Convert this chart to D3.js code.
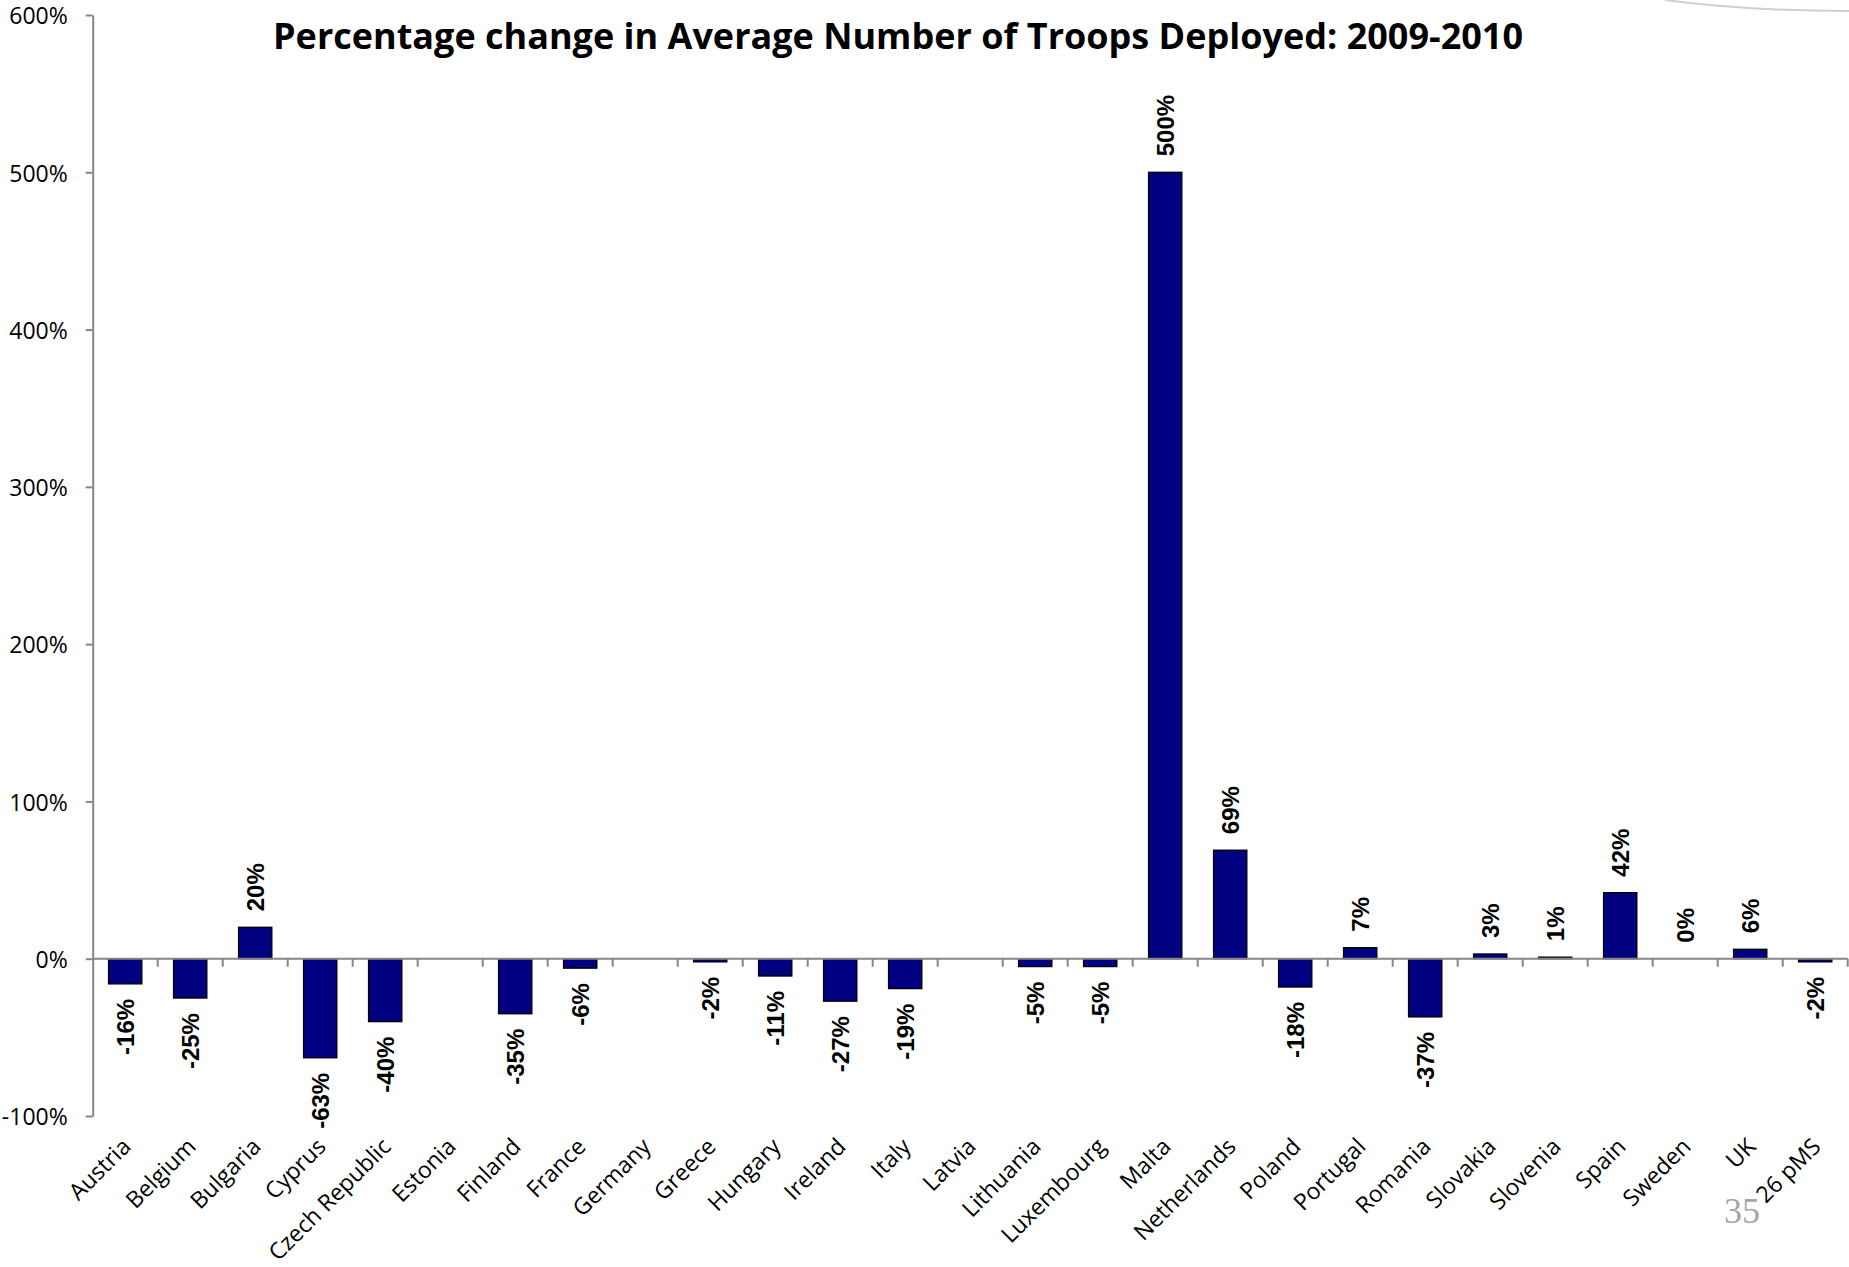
<!DOCTYPE html>
<html>
<head>
<meta charset="utf-8">
<script src="https://cdn.jsdelivr.net/npm/d3@7"></script>
<style>
  html, body { margin: 0; padding: 0; background: #fff; }
  svg { display: block; }
</style>
</head>
<body>
<svg id="chart" width="1849" height="1267"></svg>
<script>
const titleText = "Percentage change in Average Number of Troops Deployed: 2009-2010";
const categories = ["Austria","Belgium","Bulgaria","Cyprus","Czech Republic","Estonia","Finland","France","Germany","Greece","Hungary","Ireland","Italy","Latvia","Lithuania","Luxembourg","Malta","Netherlands","Poland","Portugal","Romania","Slovakia","Slovenia","Spain","Sweden","UK","26 pMS"];
const values = [-16,-25,20,-63,-40,null,-35,-6,null,-2,-11,-27,-19,null,-5,-5,500,69,-18,7,-37,3,1,42,0,6,-2];
const yTicks = [-100,0,100,200,300,400,500,600];
const pageNumber = "35";

const svg = d3.select("#chart");
const axisColor = "#868686";
const sans = "'Open Sans', Lato, sans-serif";

const x = d3.scaleBand()
  .domain(categories)
  .range([92.7, 1847.7])
  .paddingInner(0.488)
  .paddingOuter(0.244);

const y = d3.scaleLinear()
  .domain([-100, 600])
  .range([1116, 15]);

// decorative curve top-right
svg.append("path")
  .attr("d", "M1665,0 C1725,8 1785,11 1849,11")
  .attr("fill", "none")
  .attr("stroke", "#cfcfcf")
  .attr("stroke-width", 2);

// Y axis
const yAxis = svg.append("g")
  .attr("transform", `translate(${x.range()[0]},0)`)
  .call(d3.axisLeft(y).tickValues(yTicks).tickFormat(d => d + "%").tickSize(7).tickSizeOuter(0).tickPadding(18));
yAxis.select(".domain").attr("stroke", axisColor).attr("stroke-width", 2);
yAxis.selectAll(".tick line").attr("stroke", axisColor).attr("stroke-width", 2);
yAxis.selectAll(".tick text")
  .attr("font-family", sans)
  .attr("font-size", 23)
  .attr("fill", "#000")
  .attr("dy", "0.38em");

// bars
const barData = categories.map((c, i) => ({c, v: values[i]})).filter(d => d.v !== null);
svg.append("g").selectAll("rect")
  .data(barData.filter(d => d.v !== 0))
  .join("rect")
  .attr("x", d => x(d.c))
  .attr("width", x.bandwidth())
  .attr("y", d => y(Math.max(0, d.v)))
  .attr("height", d => Math.abs(y(d.v) - y(0)))
  .attr("fill", "#000080")
  .attr("stroke", "#000")
  .attr("stroke-width", 1.3);

// X axis line at 0 with category boundary ticks
const xAxisG = svg.append("g");
xAxisG.append("line")
  .attr("x1", x.range()[0]).attr("x2", x.range()[1])
  .attr("y1", y(0)).attr("y2", y(0))
  .attr("stroke", axisColor).attr("stroke-width", 2);
xAxisG.selectAll(".xt")
  .data(d3.range(1, categories.length + 1))
  .join("line")
  .attr("class", "xt")
  .attr("x1", i => x.range()[0] + i * x.step())
  .attr("x2", i => x.range()[0] + i * x.step())
  .attr("y1", y(0)).attr("y2", y(0) + 8)
  .attr("stroke", axisColor).attr("stroke-width", 2);

// category labels
svg.append("g").selectAll("text")
  .data(categories)
  .join("text")
  .attr("transform", c => `translate(${x(c) + x.bandwidth() / 2 + 7},${1148}) rotate(-45)`)
  .attr("text-anchor", "end")
  .attr("font-family", sans)
  .attr("font-size", 23)
  .attr("fill", "#000")
  .text(c => c);

// value labels
svg.append("g").selectAll("text")
  .data(barData)
  .join("text")
  .attr("transform", d => {
    const cx = x(d.c) + x.bandwidth() / 2;
    const yy = d.v >= 0 ? y(d.v) - 16 : y(d.v) + 15;
    return `translate(${cx},${yy}) rotate(-90)`;
  })
  .attr("text-anchor", d => d.v >= 0 ? "start" : "end")
  .attr("dy", "0.36em")
  .attr("font-family", "'Liberation Sans', Arial, sans-serif")
  .attr("font-weight", "bold")
  .attr("font-size", 24)
  .attr("fill", "#000")
  .text(d => d.v + "%");

// title
svg.append("text")
  .attr("x", 898)
  .attr("y", 49)
  .attr("text-anchor", "middle")
  .attr("font-family", sans)
  .attr("font-weight", "bold")
  .attr("font-size", 36)
  .attr("fill", "#000")
  .text(titleText);

// page number
svg.append("text")
  .attr("x", 1742)
  .attr("y", 1223)
  .attr("text-anchor", "middle")
  .attr("font-family", "'Liberation Serif', serif")
  .attr("font-size", 36)
  .attr("fill", "#a6a6a6")
  .text(pageNumber);
</script>
</body>
</html>
